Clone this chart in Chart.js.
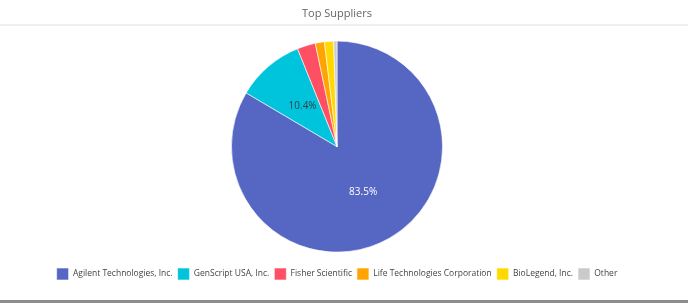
<!DOCTYPE html>
<html>
<head>
<meta charset="utf-8">
<script src="https://cdn.jsdelivr.net/npm/chart.js@4/dist/chart.umd.min.js"></script>
<style>
  html, body { margin: 0; padding: 0; background: #fff; }
  #wrap { position: relative; width: 688px; height: 303px; overflow: hidden; }
  #c { position: absolute; left: 0; top: 0; }
  #sep { position: absolute; left: 0; top: 24px; width: 688px; height: 2px; background: #efefef; }
  #bot { position: absolute; left: 0; top: 300px; width: 688px; height: 3px; background: #8c8c8c; }
</style>
</head>
<body>
<div id="wrap">
  <canvas id="c" width="688" height="303"></canvas>
  <div id="sep"></div>
  <div id="bot"></div>
</div>
<script>
const titleText = "Top Suppliers";
const categories = ["Agilent Technologies, Inc.", "GenScript USA, Inc.", "Fisher Scientific", "Life Technologies Corporation", "BioLegend, Inc.", "Other"];
const shares = [83.5, 10.4, 2.8, 1.4, 1.4, 0.5];
const colors = ["#5566c3", "#00c4db", "#ff4f62", "#ffa400", "#ffd900", "#cacaca"];
const labelColors = ["#ffffff", "#2f3f48", "#333", "#333", "#333", "#333"];

const pctLabels = {
  id: 'pctLabels',
  afterDatasetsDraw(chart) {
    const ctx = chart.ctx;
    const meta = chart.getDatasetMeta(0);
    const data = chart.data.datasets[0].data;
    const total = data.reduce((a, b) => a + b, 0);
    ctx.save();
    ctx.font = '10px "Open Sans"';
    ctx.textAlign = 'center';
    ctx.textBaseline = 'middle';
    meta.data.forEach((arc, i) => {
      const pct = data[i] / total * 100;
      if (pct < 5) return;
      const p = arc.getCenterPoint();
      ctx.fillStyle = labelColors[i];
      ctx.fillText(pct.toFixed(1) + '%', p.x, p.y);
    });
    ctx.restore();
  }
};

new Chart(document.getElementById('c'), {
  type: 'pie',
  data: {
    labels: categories,
    datasets: [{
      data: shares,
      backgroundColor: colors,
      borderColor: '#ffffff',
      borderWidth: 0.6,
      radius: 105.5
    }]
  },
  options: {
    responsive: false,
    animation: false,
    layout: { padding: { top: 0, bottom: 13, left: 0, right: 14 } },
    plugins: {
      title: {
        display: true,
        text: titleText,
        color: '#666',
        font: { family: '"Open Sans"', size: 11, weight: 'normal' },
        padding: { top: 7, bottom: 10 }
      },
      legend: {
        position: 'bottom',
        labels: {
          boxWidth: 12,
          boxHeight: 12,
          padding: 5,
          color: '#444',
          font: { family: '"Open Sans"', size: 8.5 }
        }
      },
      tooltip: { enabled: false }
    }
  },
  plugins: [pctLabels]
});
</script>
</body>
</html>
